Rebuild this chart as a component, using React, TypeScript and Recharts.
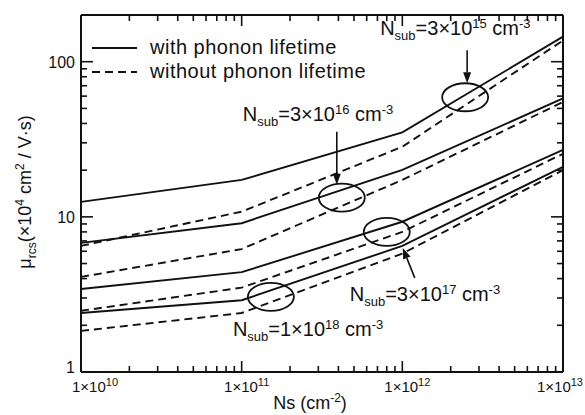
import { Customized, Line, LineChart, ReferenceDot, XAxis, YAxis } from "recharts";

const FONT = "'Liberation Sans', Arial, Helvetica, sans-serif";
const INK = "#111";

// Ns (cm^-2) sample points
const NS = [1e10, 1e11, 1e12, 1e13];

// mobility (x10^4 cm^2/V.s), solid = with phonon lifetime, dashed = without
const with3e15 = [12.5, 17.3, 35, 145];
const without3e15 = [6.5, 10.8, 28.3, 137];
const with3e16 = [6.8, 9.1, 20.1, 58];
const without3e16 = [4.1, 6.2, 17.3, 55];
const with3e17 = [3.43, 4.4, 9.3, 27];
const without3e17 = [2.48, 3.5, 8.0, 25.5];
const with1e18 = [2.4, 2.9, 6.5, 21];
const without1e18 = [1.84, 2.4, 5.8, 20];

const X_MAJOR = [1e10, 1e11, 1e12, 1e13];
const Y_MAJOR = [1, 10, 100];
const MINOR_STEPS = [2, 3, 4, 5, 6, 7, 8, 9];

// ellipse markers (Ns, mobility) and their label text
const markerNs = [2.46e12, 4.2e11, 8.0e11, 1.52e11];
const markerMu = [59, 13.3, 8.0, 3.05];
const markerCoef = ["3", "3", "3", "1"];
const markerExp = ["15", "16", "17", "18"];

const SERIES = [
  { key: "w15", values: with3e15, dashed: false },
  { key: "o15", values: without3e15, dashed: true },
  { key: "w16", values: with3e16, dashed: false },
  { key: "o16", values: without3e16, dashed: true },
  { key: "w17", values: with3e17, dashed: false },
  { key: "o17", values: without3e17, dashed: true },
  { key: "w18", values: with1e18, dashed: false },
  { key: "o18", values: without1e18, dashed: true },
];

const rows = NS.map((ns, i) => {
  const r: Record<string, number> = { ns };
  SERIES.forEach((s) => (r[s.key] = s.values[i]));
  return r;
});

const xTicks = [
  ...X_MAJOR,
  ...X_MAJOR.slice(0, 3).flatMap((d) => MINOR_STEPS.map((m) => m * d)),
];
const yTicks = [1, 10, 100, 200, ...MINOR_STEPS.map((m) => m), ...MINOR_STEPS.map((m) => m * 10)];

const isMajor = (v: number, majors: number[]) => majors.some((m) => Math.abs(m - v) / m < 1e-6);

function XTick({ x, y, payload, side }: any) {
  const v = payload.value;
  const major = isMajor(v, X_MAJOR);
  const len = major ? 11 : 6;
  const dir = side === "bottom" ? -1 : 1;
  const first = Math.abs(v - 1e10) < 1;
  const last = Math.abs(v - 1e13) < 1;
  const tx = first ? x - 9 : last ? x + 20 : x + 5;
  const anchor = first ? "start" : last ? "end" : "middle";
  return (
    <g>
      <line x1={x} y1={y} x2={x} y2={y + dir * len} stroke={INK} strokeWidth={1.6} />
      {side === "bottom" && major && (
        <text x={tx} y={y + 20} textAnchor={anchor} fontSize={15} fontFamily={FONT} fill={INK}>
          1×10
          <tspan dy={-6} fontSize={11}>
            {Math.round(Math.log10(v))}
          </tspan>
        </text>
      )}
    </g>
  );
}

function YTick({ x, y, payload, side }: any) {
  const v = payload.value;
  const major = isMajor(v, Y_MAJOR);
  const len = major ? 12 : 6;
  const dir = side === "left" ? 1 : -1;
  return (
    <g>
      <line x1={x} y1={y} x2={x + dir * len} y2={y} stroke={INK} strokeWidth={1.6} />
      {side === "left" && major && (
        <text x={x - 6} y={v === 1 ? y + 1 : y + 6} textAnchor="end" fontSize={16} fontFamily={FONT} fill={INK}>
          {v}
        </text>
      )}
    </g>
  );
}

function Arrow({ x1, y1, x2, y2 }: { x1: number; y1: number; x2: number; y2: number }) {
  const a = Math.atan2(y2 - y1, x2 - x1);
  const L = 11;
  const W = 4;
  const bx = x2 - L * Math.cos(a);
  const by = y2 - L * Math.sin(a);
  const px = -Math.sin(a) * W;
  const py = Math.cos(a) * W;
  return (
    <g>
      <line x1={x1} y1={y1} x2={bx} y2={by} stroke={INK} strokeWidth={1.6} />
      <polygon points={`${x2},${y2} ${bx + px},${by + py} ${bx - px},${by - py}`} fill={INK} />
    </g>
  );
}

function NsubText({ x, y, coef, exp }: { x: number; y: number; coef: string; exp: string }) {
  return (
    <text x={x} y={y} fontSize={20} fontFamily={FONT} fill={INK}>
      N
      <tspan dy={5} fontSize={13}>
        sub
      </tspan>
      <tspan dy={-5}>={coef}×10</tspan>
      <tspan dy={-7} fontSize={13}>
        {exp}
      </tspan>
      <tspan dy={7}> cm</tspan>
      <tspan dy={-7} fontSize={13}>
        -3
      </tspan>
    </text>
  );
}

function Marker({ cx, cy, index }: any) {
  return (
    <g>
      <ellipse cx={cx} cy={cy} rx={23} ry={14} fill="none" stroke={INK} strokeWidth={1.8} />
      {index === 0 && (
        <>
          <Arrow x1={cx + 2} y1={cy - 47} x2={cx + 2} y2={cy - 14} />
          <NsubText x={cx - 85} y={cy - 62} coef={markerCoef[0]} exp={markerExp[0]} />
        </>
      )}
      {index === 1 && (
        <>
          <Arrow x1={cx - 5} y1={cy - 66} x2={cx - 5} y2={cy - 13} />
          <NsubText x={cx - 99} y={cy - 77} coef={markerCoef[1]} exp={markerExp[1]} />
        </>
      )}
      {index === 2 && (
        <>
          <Arrow x1={cx + 28} y1={cy + 46} x2={cx + 16} y2={cy + 16} />
          <NsubText x={cx - 37} y={cy + 69} coef={markerCoef[2]} exp={markerExp[2]} />
        </>
      )}
      {index === 3 && <NsubText x={cx - 38} y={cy + 39} coef={markerCoef[3]} exp={markerExp[3]} />}
    </g>
  );
}

function Decorations() {
  return (
    <g fontFamily={FONT} fill={INK}>
      <line x1={92} y1={48} x2={137} y2={48} stroke={INK} strokeWidth={2} />
      <text x={150} y={54} fontSize={20} letterSpacing={0.5}>
        with phonon lifetime
      </text>
      <line x1={92} y1={72} x2={137} y2={72} stroke={INK} strokeWidth={2} strokeDasharray="8 5" />
      <text x={150} y={78} fontSize={20} letterSpacing={0.5}>
        without phonon lifetime
      </text>
      <text x={310} y={409} fontSize={18} textAnchor="middle">
        Ns (cm
        <tspan dy={-7} fontSize={12}>
          -2
        </tspan>
        <tspan dy={7}>)</tspan>
      </text>
      <text transform="translate(31,192) rotate(-90)" fontSize={18} textAnchor="middle">
        μ
        <tspan dy={5} fontSize={12}>
          rcs
        </tspan>
        <tspan dy={-5}>(×10</tspan>
        <tspan dy={-7} fontSize={12}>
          4
        </tspan>
        <tspan dy={7}> cm</tspan>
        <tspan dy={-7} fontSize={12}>
          2
        </tspan>
        <tspan dy={7}> / V·s)</tspan>
      </text>
    </g>
  );
}

export default function App() {
  const axisLine = { stroke: INK, strokeWidth: 2 };
  return (
    <div style={{ position: "absolute", left: 0, top: 0, background: "#fff" }}>
      <LineChart width={585} height={415} data={rows} margin={{ top: 14, right: 21, bottom: 42, left: 80 }}>
        <XAxis
          xAxisId="b"
          dataKey="ns"
          type="number"
          scale="log"
          domain={[1e10, 1e13]}
          ticks={xTicks}
          interval={0}
          height={1}
          tickSize={0}
          tickMargin={0}
          axisLine={axisLine}
          tick={(p: any) => <XTick {...p} side="bottom" />}
        />
        <XAxis
          xAxisId="t"
          orientation="top"
          dataKey="ns"
          type="number"
          scale="log"
          domain={[1e10, 1e13]}
          ticks={xTicks}
          interval={0}
          height={1}
          tickSize={0}
          tickMargin={0}
          axisLine={axisLine}
          tick={(p: any) => <XTick {...p} side="top" />}
        />
        <YAxis
          yAxisId="l"
          type="number"
          scale="log"
          domain={[1, 200]}
          allowDataOverflow
          ticks={yTicks}
          interval={0}
          width={1}
          tickSize={0}
          tickMargin={0}
          axisLine={axisLine}
          tick={(p: any) => <YTick {...p} side="left" />}
        />
        <YAxis
          yAxisId="r"
          orientation="right"
          type="number"
          scale="log"
          domain={[1, 200]}
          allowDataOverflow
          ticks={yTicks}
          interval={0}
          width={1}
          tickSize={0}
          tickMargin={0}
          axisLine={axisLine}
          tick={(p: any) => <YTick {...p} side="right" />}
        />
        {SERIES.map((s) => (
          <Line
            key={s.key}
            xAxisId="b"
            yAxisId="l"
            dataKey={s.key}
            type="linear"
            stroke={INK}
            strokeWidth={1.9}
            strokeDasharray={s.dashed ? "8 5" : undefined}
            dot={false}
            activeDot={false}
            isAnimationActive={false}
          />
        ))}
        {markerNs.map((ns, i) => (
          <ReferenceDot
            key={i}
            xAxisId="b"
            yAxisId="l"
            x={ns}
            y={markerMu[i]}
            ifOverflow="visible"
            shape={(p: any) => <Marker {...p} index={i} />}
          />
        ))}
        <Customized component={Decorations} />
      </LineChart>
    </div>
  );
}
